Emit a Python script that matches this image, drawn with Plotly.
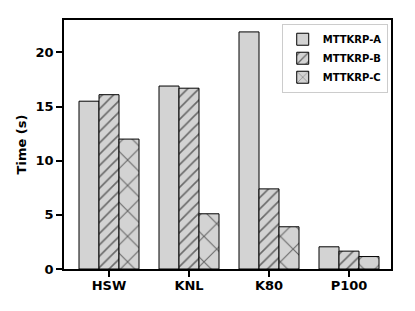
import plotly.graph_objects as go

categories = ["HSW", "KNL", "K80", "P100"]
series_names = ["MTTKRP-A", "MTTKRP-B", "MTTKRP-C"]
mttkrp_a = [15.5, 16.9, 21.9, 2.05]
mttkrp_b = [16.1, 16.7, 7.4, 1.65]
mttkrp_c = [12.0, 5.1, 3.9, 1.15]
y_ticks = [0, 5, 10, 15, 20]

FONT = "DejaVu Sans"
fill = "#d3d3d3"
patterns = ["", "/", "x"]
pattern_sizes = [8, 8, 18]
pattern_solidity = [0.2, 0.2, 0.12]

fig = go.Figure()
for name, vals, shp, sz, sol in zip(series_names, [mttkrp_a, mttkrp_b, mttkrp_c],
                                    patterns, pattern_sizes, pattern_solidity):
    fig.add_trace(go.Bar(
        x=categories, y=vals, name=name,
        marker=dict(color=fill, line=dict(color="black", width=1),
                    pattern=dict(shape=shp, fgcolor="black", bgcolor=fill,
                                 size=sz, solidity=sol, fillmode="overlay")),
    ))

# page body has an 8px margin; compensate so the plot area lands where the reference has it
fig.update_layout(
    width=407, height=303,
    margin=dict(l=56, r=24, t=12, b=42, autoexpand=False),
    plot_bgcolor="white", paper_bgcolor="white",
    barmode="group", bargap=0.25, bargroupgap=0,
    font=dict(family=FONT, color="black"),
    showlegend=True,
    legend=dict(x=0.99, y=0.985, xanchor="right", yanchor="top",
                bordercolor="#cccccc", borderwidth=1, bgcolor="white",
                font=dict(family=FONT, size=10, weight="bold"),
                tracegroupgap=0, itemwidth=30),
)
fig.update_xaxes(
    type="category", range=[-0.5625, 3.525], automargin=False,
    showline=True, linecolor="black", linewidth=1.5, mirror=True,
    ticks="outside", ticklen=6, tickwidth=1.5, tickcolor="black",
    tickfont=dict(family=FONT, size=13, weight="bold"),
    ticklabelstandoff=-2,
    showgrid=False, zeroline=False,
)
fig.update_yaxes(
    range=[0, 23], tickvals=y_ticks, automargin=False,
    showline=True, linecolor="black", linewidth=1.5, mirror=True,
    ticks="outside", ticklen=6, tickwidth=1.5, tickcolor="black",
    tickfont=dict(family=FONT, size=13, weight="bold"),
    showgrid=False, zeroline=False,
    title=dict(text="Time (s)", font=dict(family=FONT, size=13, weight="bold"), standoff=6),
)

fig.write_html("out.html")
